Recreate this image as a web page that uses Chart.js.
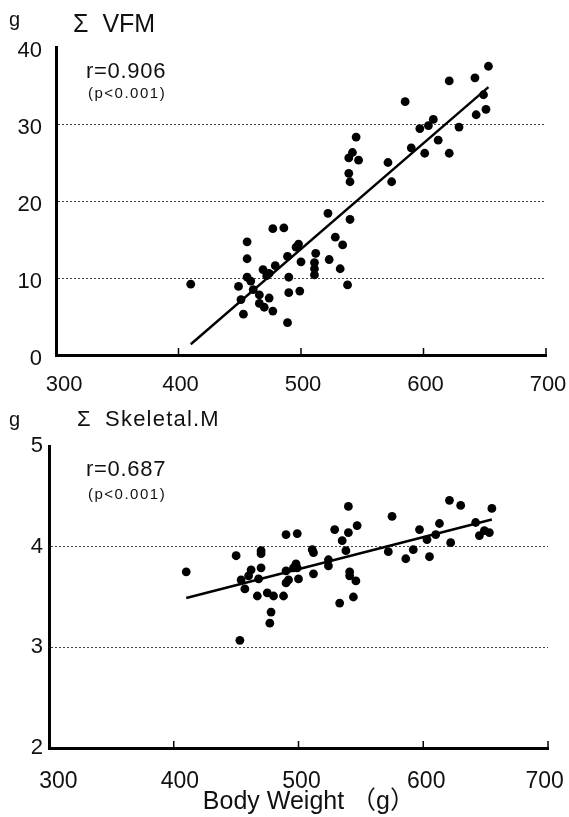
<!DOCTYPE html>
<html><head><meta charset="utf-8">
<script src="https://cdn.jsdelivr.net/npm/chart.js@4.4.1/dist/chart.umd.min.js"></script>
<style>
html,body{margin:0;padding:0;background:#fff;}
#wrap{position:relative;width:569px;height:817px;overflow:hidden;font-family:'Liberation Sans',Arial,sans-serif;color:#111;}
canvas{position:absolute;left:0;}
.t{position:absolute;white-space:nowrap;line-height:1;}
</style></head><body>
<div id="wrap">
<canvas id="c1" width="569" height="400" style="top:0;width:569px;height:400px"></canvas>
<canvas id="c2" width="569" height="417" style="top:400px;width:569px;height:417px"></canvas>
<div class="t" style="left:9px;top:8.5px;font-size:20px">g</div>
<div class="t" style="left:73px;top:10.5px;font-size:25px;word-spacing:7px">Σ VFM</div>
<div class="t" style="left:86px;top:59.5px;font-size:22px;letter-spacing:0.7px">r=0.906</div>
<div class="t" style="left:88px;top:85px;font-size:15px;letter-spacing:1.5px">(p&lt;0.001)</div>
<div class="t" style="left:9px;top:408.5px;font-size:20px">g</div>
<div class="t" style="left:77px;top:408px;font-size:22px;word-spacing:6px;letter-spacing:1.2px">Σ Skeletal.M</div>
<div class="t" style="left:86px;top:457.5px;font-size:22px;letter-spacing:0.7px">r=0.687</div>
<div class="t" style="left:88px;top:485.5px;font-size:15px;letter-spacing:1.5px">(p&lt;0.001)</div>
</div>
<script>
// ---- data ----
const weightTicks = [300, 400, 500, 600, 700];
const vfmTicks = [0, 10, 20, 30, 40];
const skTicks = [2, 3, 4, 5];

const vfmWeight = [545,539,542,547,539,540,522,540,477,486,653,642,621,585,649,651,643,608,604,597,629,612,590,601,621,571,574,456,528,534,498,496,456,512,489,500,479,523,511,511,511,532,469,472,456,459,474,490,410,449,461,466,490,499,538,474,451,466,470,477,453,489];
const vfmValue = [28.3,25.6,26.3,25.3,23.6,22.5,18.4,17.6,16.4,16.5,37.5,36.0,35.6,32.9,33.8,31.9,31.2,30.6,29.8,29.4,29.6,27.9,26.9,26.2,26.2,25.0,22.5,14.7,15.3,14.3,14.4,14.0,12.5,13.2,12.8,12.1,11.6,12.4,12.0,11.2,10.4,11.2,11.1,10.3,10.1,9.6,10.6,10.1,9.2,8.9,8.5,7.8,8.1,8.3,9.1,7.4,7.2,6.7,6.2,5.7,5.3,4.2];
const vfmFitX = [410, 653];
const vfmFitY = [1.4, 34.8];

const skWeight = [540,547,529,540,535,538,490,499,450,470,470,511,512,524,524,498,499,496,490,462,470,512,541,541,546,410,460,454,457,468,492,490,500,467,475,480,488,478,533,544,621,630,655,575,613,642,597,649,653,645,610,603,622,572,592,586,605,453,477];
const skValue = [4.40,4.21,4.17,4.14,4.06,3.96,4.12,4.13,3.91,3.96,3.93,3.97,3.94,3.87,3.81,3.83,3.79,3.79,3.76,3.77,3.79,3.73,3.75,3.71,3.66,3.75,3.71,3.67,3.58,3.68,3.67,3.64,3.68,3.51,3.54,3.51,3.51,3.35,3.44,3.50,4.46,4.41,4.38,4.30,4.23,4.24,4.17,4.16,4.14,4.11,4.12,4.07,4.04,3.95,3.97,3.88,3.90,3.07,3.24];
const skFitX = [410, 655];
const skFitY = [3.49, 4.27];

const xTitle = '   Body Weight （g）';

// ---- rendering ----
Chart.defaults.font.family = "'Liberation Sans', Arial, 'Noto Sans CJK JP', sans-serif";
Chart.defaults.color = '#111';

const innerTicks = {
  id: 'innerTicks',
  afterDraw(chart) {
    const xs = chart.scales.x, a = chart.chartArea, ctx = chart.ctx;
    ctx.save();
    ctx.strokeStyle = '#000';
    ctx.lineWidth = 1.5;
    xs.ticks.forEach(t => {
      if (t.value <= xs.min) return;
      const px = xs.getPixelForValue(t.value);
      ctx.beginPath();
      ctx.moveTo(px, a.bottom);
      ctx.lineTo(px, a.bottom - 7);
      ctx.stroke();
    });
    ctx.restore();
  }
};

function pts(xs, ys) { return xs.map((x, i) => ({x: x, y: ys[i]})); }

function makeChart(id, o) {
  const yMin = o.yTicks[0], yMax = o.yTicks[o.yTicks.length - 1];
  return new Chart(document.getElementById(id), {
    type: 'scatter',
    data: {
      datasets: [
        { data: pts(o.px, o.py), pointRadius: 4.4, pointHoverRadius: 4.4, backgroundColor: '#000', borderWidth: 0 },
        { data: pts(o.fx, o.fy), showLine: true, pointRadius: 0, borderColor: '#000', borderWidth: 2.4, fill: false }
      ]
    },
    options: {
      responsive: false, animation: false, devicePixelRatio: 1,
      events: [],
      layout: { padding: { top: o.padTop, right: o.padRight, left: 0, bottom: 0 } },
      plugins: { legend: { display: false }, tooltip: { enabled: false } },
      scales: {
        x: {
          type: 'linear', min: weightTicks[0], max: weightTicks[weightTicks.length - 1],
          afterBuildTicks: s => { s.ticks = weightTicks.map(v => ({value: v})); },
          afterFit: s => { s.height = o.xHeight; s.paddingLeft = 0; s.paddingRight = 0; },
          grid: { display: false },
          border: { display: true, color: '#000', width: 3 },
          ticks: {
            font: { size: o.xFont }, color: '#111', padding: o.xPad, labelOffset: o.xLabOff, maxRotation: 0,
            callback: v => (o.lead[v] || '') + v + (o.trail[v] || '')
          },
          title: o.title ? { display: true, text: o.title, font: { size: 25 }, color: '#111', padding: { top: 0, bottom: 0 } } : { display: false }
        },
        y: {
          type: 'linear', min: yMin, max: yMax,
          afterBuildTicks: s => { s.ticks = o.yTicks.map(v => ({value: v})); },
          afterFit: s => { s.width = o.yWidth; },
          grid: {
            display: true, drawTicks: false, lineWidth: 1,
            color: c => (c.tick && (c.tick.value === yMin || c.tick.value === yMax)) ? 'rgba(0,0,0,0)' : '#444'
          },
          border: { display: true, color: '#000', width: 3, dash: [2, 2] },
          ticks: { font: { size: 22 }, color: '#111', padding: o.yPad, labelOffset: o.yLabOff }
        }
      }
    },
    plugins: [innerTicks]
  });
}

makeChart('c1', {
  px: vfmWeight, py: vfmValue, fx: vfmFitX, fy: vfmFitY, yTicks: vfmTicks,
  padTop: 47, padRight: 23, xHeight: 45, yWidth: 56,
  xFont: 22, xPad: 9, xLabOff: 2, yPad: 14, yLabOff: 4, title: null,
  lead: {300: '  '}, trail: {}
});
makeChart('c2', {
  px: skWeight, py: skValue, fx: skFitX, fy: skFitY, yTicks: skTicks,
  padTop: 46, padRight: 21, xHeight: 69, yWidth: 49,
  xFont: 23, xPad: 12, xLabOff: 3, yPad: 6, yLabOff: 0, title: xTitle,
  lead: {300: '  ', 400: ' '}, trail: {700: '  '}
});
</script>
</body></html>
